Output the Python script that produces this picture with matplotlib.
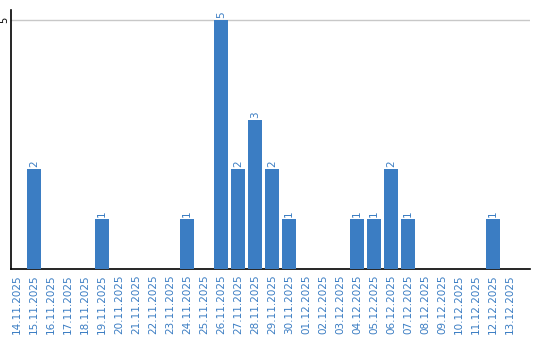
import matplotlib.pyplot as plt
import numpy as np

dates = ["14.11.2025", "15.11.2025", "16.11.2025", "17.11.2025", "18.11.2025",
         "19.11.2025", "20.11.2025", "21.11.2025", "22.11.2025", "23.11.2025",
         "24.11.2025", "25.11.2025", "26.11.2025", "27.11.2025", "28.11.2025",
         "29.11.2025", "30.11.2025", "01.12.2025", "02.12.2025", "03.12.2025",
         "04.12.2025", "05.12.2025", "06.12.2025", "07.12.2025", "08.12.2025",
         "09.12.2025", "10.12.2025", "11.12.2025", "12.12.2025", "13.12.2025"]
counts = [0, 2, 0, 0, 0, 1, 0, 0, 0, 0, 1, 0, 5, 2, 3, 2, 1, 0, 0, 0,
          1, 1, 2, 1, 0, 0, 0, 0, 1, 0]

blue = "#3b7dc3"
fig = plt.figure(figsize=(5.4, 3.4), dpi=100)
ax = fig.add_axes([11 / 540, 71 / 340, 519 / 540, 259 / 340])

x = np.arange(len(dates))
ax.bar(x, counts, width=0.82, color=blue, zorder=3)
for xi, c in zip(x, counts):
    if c > 0:
        ax.text(xi, c + 0.04, str(c), rotation=90, ha="center", va="bottom",
                fontsize=7.5, color=blue)

ax.set_xlim(-0.35, len(dates) + 0.17)
ax.set_ylim(0, 5.2)
ax.set_yticks([5])
ax.set_yticklabels(["5"], rotation=90, va="center", fontsize=7)
ax.set_xticks(x)
ax.set_xticklabels(dates, rotation=90, fontsize=7.5, color=blue)
ax.tick_params(axis="x", length=0, pad=4)
ax.tick_params(axis="y", length=0, pad=1)
ax.grid(axis="y", color="#c8c8c8", lw=1, zorder=0)
ax.spines["top"].set_visible(False)
ax.spines["right"].set_visible(False)
ax.spines["left"].set_linewidth(1.2)
ax.spines["bottom"].set_linewidth(1.2)

fig.savefig("out.png", dpi=100)
